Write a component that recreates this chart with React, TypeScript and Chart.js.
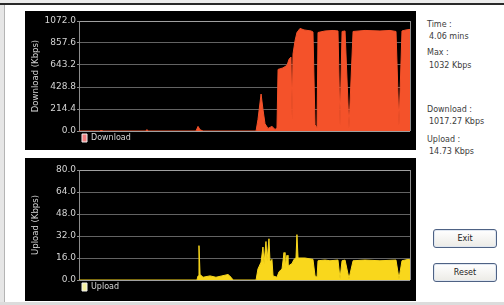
import React, { useEffect, useRef } from "react";
import { Chart, registerables } from "chart.js";

Chart.register(...registerables);

// ---- data (time in seconds, rates in Kbps) ----
const sessionSeconds = 243.6;

const downloadTime = [
  0, 15.5, 16.2, 16.9, 49.3, 50.0, 50.8, 86.1, 87.6, 89.1, 91.3,
  130.3, 131.7, 134.0, 135.4, 136.9, 139.1, 142.0, 144.3, 145.7, 146.5,
  150.1, 153.1, 154.6, 156.0, 156.8, 157.5, 159.0, 160.4, 162.7, 165.6,
  170.8, 172.2, 173.7, 175.2, 175.9, 181.1, 187.0, 190.6, 192.1, 193.6,
  195.8, 198.7, 201.7, 210.5, 221.5, 228.9, 233.3, 235.5, 237.7, 240.7, 243.6,
];
const downloadKbps = [
  0, 0, 8, 0, 0, 14, 0, 0, 45, 12, 0,
  0, 110, 360, 210, 70, 25, 45, 15, 30, 600,
  615, 640, 700, 720, 110, 750, 880, 960, 1000, 985,
  975, 965, 60, 30, 960, 975, 980, 975, 50, 970,
  975, 30, 970, 980, 975, 980, 970, 50, 975, 985, 990,
];

const uploadTime = [
  0, 86.8, 87.6, 88.3, 89.1, 91.3, 96.4, 100.8, 105.2, 109.7, 111.9, 113.4,
  130.3, 131.7, 134.0, 135.4, 136.2, 137.6, 138.4, 139.8, 140.6, 142.0, 142.8,
  145.7, 147.2, 149.4, 150.9, 151.6, 153.1, 153.8, 156.8, 158.2, 159.7, 160.4,
  161.2, 166.3, 172.2, 173.7, 175.2, 175.9, 181.1, 184.7, 190.6, 192.1, 193.6,
  195.8, 198.7, 201.7, 210.5, 221.5, 233.3, 235.5, 237.7, 242.1, 243.6,
];
const uploadKbps = [
  0, 0, 3, 25, 4, 2, 3, 2, 3, 4, 2, 0,
  0, 8, 13, 24, 12, 28, 14, 30, 13, 15, 3,
  2, 6, 8, 20, 9, 18, 10, 12, 15, 16, 33,
  16, 16, 15, 3, 2, 14, 14.5, 14, 14.5, 1, 14,
  14.5, 1, 14, 14.5, 14, 14.5, 1, 14, 15, 14.73,
];

const downloadTicks = [0, 214.4, 428.8, 643.2, 857.6, 1072.0];
const uploadTicks = [0, 16, 32, 48, 64, 80];

const infoLabels = ["Time :", "Max :", "Download :", "Upload :"];
const infoValues = ["4.06 mins", "1032 Kbps", "1017.27 Kbps", "14.73 Kbps"];
const buttonLabels = ["Exit", "Reset"];

const FONT = "'DejaVu Sans', Verdana, sans-serif";

const framePlugin = {
  id: "frame",
  beforeDatasetsDraw(chart: any) {
    const { ctx, chartArea: a } = chart;
    ctx.save();
    ctx.strokeStyle = "#8c8c8c";
    ctx.lineWidth = 1;
    const x = Math.round(a.right) + 0.5;
    ctx.beginPath();
    ctx.moveTo(x, a.top);
    ctx.lineTo(x, a.bottom);
    ctx.stroke();
    ctx.restore();
  },
};

type PanelProps = {
  times: number[];
  values: number[];
  ticks: number[];
  title: string;
  label: string;
  color: string;
  boxColor: string;
  height: number;
  padTop: number;
  legendHeight: number;
};

function RatePanel(p: PanelProps) {
  const ref = useRef<HTMLCanvasElement | null>(null);
  useEffect(() => {
    if (!ref.current) return;
    const max = p.ticks[p.ticks.length - 1];
    const chart = new Chart(ref.current, {
      type: "line",
      data: {
        datasets: [
          {
            label: p.label,
            data: p.times.map((t, i) => ({ x: t, y: p.values[i] })),
            borderColor: p.color,
            backgroundColor: p.color,
            borderWidth: 1,
            pointRadius: 0,
            tension: 0,
            fill: "origin",
          },
        ],
      },
      options: {
        animation: false,
        responsive: false,
        maintainAspectRatio: false,
        layout: { padding: { top: p.padTop, right: 6, bottom: 0, left: 0 } },
        scales: {
          x: { type: "linear", min: 0, max: sessionSeconds, display: false },
          y: {
            min: 0,
            max,
            afterBuildTicks: (s: any) => {
              s.ticks = p.ticks.map((v) => ({ value: v }));
            },
            afterFit: (s: any) => {
              s.width = 54;
            },
            ticks: {
              color: "#d4d4d4",
              padding: 1,
              font: { family: FONT, size: 9 },
              callback: (v: any) => Number(v).toFixed(1),
            },
            grid: {
              color: (c: any) =>
                c.tick && (c.tick.value === 0 || c.tick.value === max) ? "#a0a0a0" : "#636363",
              tickLength: 2,
              tickColor: "#8c8c8c",
            },
            border: { color: "#8c8c8c" },
            title: {
              display: true,
              text: p.title,
              color: "#d4d4d4",
              font: { family: FONT, size: 8.5 },
              padding: { top: 6, bottom: 0 },
            },
          },
        },
        plugins: {
          tooltip: { enabled: false },
          legend: {
            position: "bottom",
            align: "start",
            fullSize: false,
            maxHeight: p.legendHeight,
            labels: {
              boxWidth: 5,
              boxHeight: 8,
              padding: 3,
              color: "#d8d8d8",
              font: { family: FONT, size: 8 },
              generateLabels: () => [
                {
                  text: p.label,
                  fillStyle: p.boxColor,
                  strokeStyle: "#f0f0f0",
                  lineWidth: 1,
                  fontColor: "#d8d8d8",
                  hidden: false,
                  datasetIndex: 0,
                },
              ],
            },
          },
        },
      },
      plugins: [framePlugin],
    } as any);
    return () => chart.destroy();
  }, []);
  return <canvas ref={ref} width={391} height={p.height} style={{ display: "block", width: 391, height: p.height }} />;
}

const infoTops = [20, 32, 48, 61, 105, 117, 135, 147];

export default function App() {
  const lines: { text: string; indent: number }[] = [];
  infoLabels.forEach((l, i) => {
    lines.push({ text: l, indent: 0 });
    lines.push({ text: infoValues[i], indent: 2 });
  });
  return (
    <div
      style={{
        position: "absolute",
        left: 0,
        top: 0,
        width: 504,
        height: 305,
        background: "#ffffff",
        overflow: "hidden",
        fontFamily: FONT,
      }}
    >
      <div style={{ position: "absolute", left: 0, top: 0, width: 504, height: 3, background: "#ececec" }} />
      <div style={{ position: "absolute", left: 0, top: 3, width: 504, height: 2, background: "#2a2a2a" }} />
      <div style={{ position: "absolute", left: 0, top: 5, width: 4, height: 300, background: "#e6e6e6", borderRight: "1px solid #b4b4b4" }} />
      <div style={{ position: "absolute", left: 0, top: 302, width: 504, height: 3, background: "#dcdcdc" }} />

      <div style={{ position: "absolute", left: 25, top: 11, width: 391, height: 139, background: "#000" }}>
        <RatePanel
          times={downloadTime}
          values={downloadKbps}
          ticks={downloadTicks}
          title="Download (Kbps)"
          label="Download"
          color="#f4522a"
          boxColor="#f08080"
          height={139}
          padTop={10}
          legendHeight={19}
        />
      </div>
      <div style={{ position: "absolute", left: 25, top: 158, width: 391, height: 143, background: "#000" }}>
        <RatePanel
          times={uploadTime}
          values={uploadKbps}
          ticks={uploadTicks}
          title="Upload (Kbps)"
          label="Upload"
          color="#f9d71c"
          boxColor="#f4f0a0"
          height={143}
          padTop={12}
          legendHeight={21}
        />
      </div>

      {lines.map((ln, i) => (
        <div
          key={i}
          style={{
            position: "absolute",
            left: 427 + ln.indent,
            top: infoTops[i],
            fontSize: 8,
            lineHeight: "10px",
            color: "#3c3c3c",
            whiteSpace: "nowrap",
          }}
        >
          {ln.text}
        </div>
      ))}

      {buttonLabels.map((b, i) => (
        <div
          key={b}
          style={{
            position: "absolute",
            left: 433,
            top: i === 0 ? 229 : 263,
            width: 62,
            height: 17,
            border: "1px solid #4e6284",
            borderRadius: 3,
            background: "linear-gradient(#ffffff, #ecebe6)",
            boxShadow: "inset 0 0 0 1px #dfe6f0",
            color: "#222",
            fontSize: 8,
            lineHeight: "17px",
            textAlign: "center",
          }}
        >
          {b}
        </div>
      ))}
    </div>
  );
}
